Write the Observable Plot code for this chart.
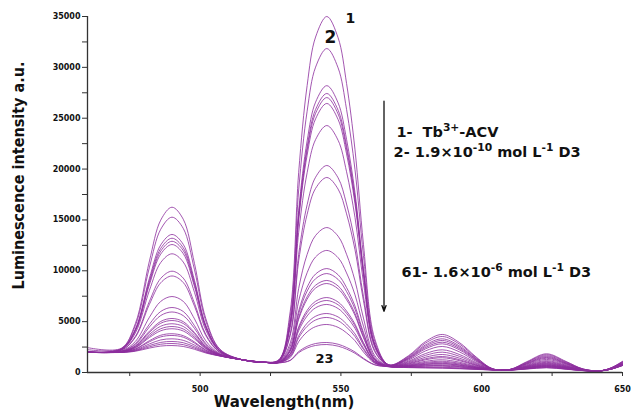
<!DOCTYPE html>
<html>
<head>
<meta charset="utf-8">
<script src="https://cdn.jsdelivr.net/npm/d3@7"></script>
<script src="https://cdn.jsdelivr.net/npm/@observablehq/plot@0.6"></script>
<style>
  html, body { margin: 0; padding: 0; background: #fff; }
  svg text { white-space: pre; }
</style>
</head>
<body>
<div id="chart"></div>
<script>
// ---------- data ----------
const wavelengths = [460, 472, 477, 482, 486, 490, 494, 498, 502, 507, 515, 523,
  528, 532, 535, 538, 541, 545, 549, 552, 555, 558, 562,
  567, 574, 580, 586, 592, 598, 604,
  610, 616, 623, 630, 636, 642, 646, 650];

const curve1 = [2450, 2380, 4810, 10970, 14980, 16250, 15070, 10710, 5320, 2300, 1250, 1000, 1270, 6020, 19680, 28210, 32980, 35000, 32910, 28420, 21890, 12610, 3330, 760, 1650, 3040, 3740, 2960, 1530, 350, 300, 1060, 1840, 1080, 350, 170, 470, 1100];
const curve2 = [2250, 2350, 4610, 10350, 14080, 15270, 14170, 10100, 5070, 2250, 1250, 1000, 1240, 5540, 17950, 25690, 30020, 31850, 29950, 25870, 19940, 11510, 3080, 750, 1580, 2890, 3540, 2810, 1460, 350, 300, 1010, 1750, 1030, 340, 170, 460, 1070];
const curve3 = [2000, 2300, 4270, 9280, 12540, 13570, 12600, 9050, 4650, 2170, 1250, 1000, 1200, 5000, 15940, 22770, 26580, 28200, 26510, 22920, 17670, 10230, 2790, 730, 1500, 2710, 3310, 2630, 1370, 340, 290, 960, 1650, 970, 330, 160, 450, 1040];
const curve4 = [2000, 2290, 4200, 9040, 12200, 13200, 12260, 8820, 4560, 2150, 1250, 1000, 1200, 4880, 15520, 22160, 25860, 27430, 25790, 22290, 17200, 9970, 2720, 720, 1440, 2580, 3150, 2500, 1320, 330, 290, 910, 1560, 920, 310, 160, 440, 1010];
const curve5 = [2000, 2280, 4140, 8860, 11930, 12900, 11990, 8640, 4480, 2130, 1250, 1000, 1190, 4820, 15300, 21840, 25480, 27030, 25410, 21970, 16950, 9820, 2690, 720, 1380, 2450, 2980, 2370, 1250, 330, 280, 870, 1480, 880, 300, 160, 430, 990];
const curve6 = [2000, 2270, 4070, 8650, 11640, 12580, 11690, 8440, 4400, 2120, 1250, 1000, 1190, 4730, 14980, 21370, 24940, 26450, 24870, 21500, 16590, 9620, 2650, 710, 1320, 2320, 2820, 2240, 1190, 320, 280, 830, 1400, 840, 300, 160, 420, 960];
const curve7 = [2000, 2240, 3890, 8080, 10810, 11670, 10860, 7870, 4170, 2070, 1250, 1000, 1170, 4410, 13790, 19640, 22900, 24280, 22830, 19740, 15240, 8860, 2470, 700, 1230, 2120, 2560, 2040, 1100, 320, 280, 770, 1290, 780, 280, 160, 410, 930];
const curve8 = [2000, 2190, 3550, 7000, 9250, 9960, 9280, 6810, 3750, 1990, 1250, 1000, 1130, 3820, 11620, 16490, 19200, 20350, 19140, 16560, 12810, 7490, 2160, 680, 1120, 1860, 2230, 1780, 980, 310, 270, 710, 1170, 710, 270, 160, 400, 890];
const curve9 = [2000, 2180, 3460, 6710, 8820, 9490, 8850, 6520, 3630, 1960, 1250, 1000, 1110, 3640, 10980, 15550, 18100, 19170, 18030, 15600, 12070, 7070, 2060, 670, 1040, 1680, 2000, 1600, 890, 300, 260, 660, 1080, 660, 260, 160, 390, 870];
const curve10 = [2000, 2120, 3050, 5430, 6990, 7470, 6990, 5270, 3120, 1860, 1250, 1000, 1070, 2900, 8270, 11610, 13470, 14250, 13400, 11620, 9020, 5350, 1670, 640, 960, 1500, 1770, 1420, 800, 290, 260, 620, 1000, 620, 250, 160, 380, 840];
const curve11 = [2000, 2090, 2840, 4750, 6000, 6390, 6000, 4600, 2850, 1810, 1250, 1000, 1040, 2570, 7030, 9810, 11360, 12000, 11290, 9790, 7630, 4560, 1490, 630, 890, 1350, 1570, 1270, 730, 290, 260, 590, 930, 580, 240, 160, 370, 820];
const curve12 = [2000, 2070, 2750, 4480, 5600, 5950, 5590, 4330, 2740, 1790, 1250, 1000, 1020, 2300, 6050, 8390, 9680, 10220, 9610, 8350, 6530, 3940, 1350, 620, 840, 1250, 1450, 1170, 690, 280, 250, 560, 880, 550, 230, 160, 370, 810];
const curve13 = [2000, 2050, 2620, 4070, 5020, 5310, 5000, 3930, 2580, 1750, 1250, 1000, 1020, 2230, 5780, 8000, 9220, 9730, 9150, 7960, 6220, 3770, 1310, 610, 780, 1100, 1250, 1020, 610, 280, 250, 530, 820, 520, 230, 160, 360, 790];
const curve14 = [2000, 2050, 2580, 3950, 4840, 5110, 4820, 3810, 2530, 1740, 1250, 1000, 1010, 2120, 5410, 7450, 8580, 9050, 8510, 7400, 5800, 3530, 1250, 610, 730, 990, 1110, 910, 560, 270, 250, 500, 770, 490, 220, 160, 360, 770];
const curve15 = [2000, 2040, 2520, 3750, 4550, 4790, 4530, 3610, 2450, 1730, 1250, 1000, 1010, 2080, 5240, 7210, 8300, 8750, 8230, 7160, 5610, 3430, 1230, 600, 690, 910, 1010, 830, 520, 270, 250, 480, 730, 470, 210, 160, 350, 760];
const curve16 = [2000, 2030, 2460, 3580, 4300, 4520, 4280, 3440, 2390, 1710, 1250, 1000, 1000, 1870, 4490, 6110, 7000, 7370, 6930, 6040, 4760, 2940, 1120, 600, 660, 830, 910, 750, 490, 270, 240, 460, 690, 440, 210, 160, 350, 750];
const curve17 = [2000, 2020, 2420, 3440, 4100, 4300, 4080, 3300, 2330, 1700, 1250, 1000, 990, 1830, 4330, 5880, 6730, 7080, 6660, 5810, 4580, 2840, 1100, 600, 640, 790, 860, 710, 470, 260, 240, 440, 660, 430, 210, 150, 350, 740];
const curve18 = [2000, 2010, 2320, 3130, 3660, 3810, 3620, 3000, 2210, 1680, 1250, 1000, 990, 1770, 4110, 5560, 6360, 6690, 6290, 5490, 4340, 2710, 1060, 590, 600, 720, 760, 640, 430, 260, 240, 420, 620, 410, 200, 150, 340, 730];
const curve19 = [2000, 2000, 2290, 3020, 3500, 3640, 3470, 2890, 2170, 1670, 1250, 1000, 980, 1640, 3620, 4850, 5530, 5800, 5460, 4770, 3790, 2390, 990, 590, 580, 660, 690, 580, 410, 260, 240, 410, 590, 390, 200, 150, 340, 720];
const curve20 = [2000, 1990, 2220, 2810, 3200, 3310, 3160, 2690, 2080, 1650, 1250, 1000, 980, 1580, 3410, 4540, 5160, 5410, 5090, 4460, 3540, 2260, 960, 580, 550, 610, 620, 530, 380, 260, 240, 390, 560, 370, 190, 150, 340, 710];
const curve21 = [2000, 1990, 2170, 2650, 2960, 3050, 2930, 2530, 2020, 1640, 1250, 1000, 970, 1470, 3030, 3990, 4510, 4720, 4440, 3900, 3120, 2020, 910, 580, 520, 530, 520, 450, 340, 250, 240, 370, 520, 350, 190, 150, 330, 700];
const curve22 = [2000, 1980, 2130, 2520, 2780, 2850, 2740, 2400, 1970, 1630, 1250, 1000, 950, 1210, 2060, 2570, 2850, 2950, 2780, 2460, 2020, 1400, 770, 570, 500, 480, 460, 400, 320, 250, 240, 360, 490, 340, 190, 150, 330, 690];
const curve23 = [2000, 1970, 2090, 2400, 2600, 2650, 2560, 2280, 1920, 1620, 1250, 1000, 950, 1180, 1950, 2410, 2660, 2750, 2590, 2300, 1890, 1330, 750, 570, 480, 450, 420, 370, 300, 250, 230, 340, 460, 320, 180, 150, 330, 680];

const curves = [curve1, curve2, curve3, curve4, curve5, curve6, curve7, curve8, curve9, curve10,
  curve11, curve12, curve13, curve14, curve15, curve16, curve17, curve18, curve19, curve20,
  curve21, curve22, curve23];

const yMajorTicks = [0, 5000, 10000, 15000, 20000, 25000, 30000, 35000];
const yMinorTicks = [2500, 7500, 12500, 17500, 22500, 27500, 32500];
const xMajorTicks = [500, 550, 600, 650];
const xMinorTicks = [475, 525, 575, 625];

const xTitle = "Wavelength(nm)";
const yTitle = "Luminescence intensity a.u.";

const curveLabels = [
  {label: "1", wavelength: 553.4, intensity: 34800, size: 14},
  {label: "2", wavelength: 546.3, intensity: 32900, size: 17},
  {label: "23", wavelength: 544.2, intensity: 1330, size: 13}
];
const legendLines = [
  {text: "1-  Tb^{3+}-ACV", wavelength: 569.7, intensity: 23650},
  {text: "2- 1.9×10^{-10} mol L^{-1} D3", wavelength: 568.7, intensity: 21690},
  {text: "61- 1.6×10^{-6} mol L^{-1} D3", wavelength: 571.5, intensity: 9830}
];
const arrowSpec = [{wavelength: 565.3, from: 26670, to: 6020}];

// ---------- tidy rows built from the arrays ----------
const rows = curves.flatMap((vals, i) =>
  vals.map((v, j) => ({curve: i + 1, wavelength: wavelengths[j], intensity: v})));

const FONT = "DejaVu Sans";
const annoSize = 14.5;

const chart = Plot.plot({
  width: 631,
  height: 410,
  marginLeft: 87,
  marginRight: 9,
  marginTop: 16,
  marginBottom: 38,
  x: {domain: [460, 650], label: null},
  y: {domain: [0, 35000], label: null},
  style: {fontFamily: FONT, fontWeight: "bold", fontSize: "8px", color: "#111", background: "#fff", overflow: "visible"},
  marks: [
    Plot.axisY({ticks: yMajorTicks, tickSize: 5, tickPadding: 2, tickFormat: d => String(d), label: null, fontSize: 8, fontWeight: "bold", stroke: "#333"}),
    Plot.axisY({ticks: yMinorTicks, tickSize: 5, tickFormat: () => "", label: null, stroke: "#333"}),
    Plot.axisX({ticks: xMajorTicks, tickSize: 4, tickPadding: 10, tickFormat: d => String(d), label: null, fontSize: 8, fontWeight: "bold", stroke: "#333"}),
    Plot.axisX({ticks: xMinorTicks, tickSize: 4, tickFormat: () => "", label: null, stroke: "#333"}),
    Plot.line(rows, {
      x: "wavelength", y: "intensity", z: "curve",
      curve: "catmull-rom",
      stroke: "#8c2d9e", strokeWidth: 1, strokeOpacity: 0.8
    }),
    Plot.ruleX([460], {stroke: "#333", strokeWidth: 1.3}),
    Plot.ruleY([0], {stroke: "#333", strokeWidth: 1.3}),
    Plot.arrow(arrowSpec, {
      x1: "wavelength", y1: "from", x2: "wavelength", y2: "to",
      stroke: "#111", strokeWidth: 1.3, headLength: 7, headAngle: 40
    }),
    Plot.text(curveLabels, {
      x: "wavelength", y: "intensity", text: "label",
      fontSize: d => d.size, fontWeight: "bold", fill: "#111",
      textAnchor: "middle", lineAnchor: "middle"
    }),
    Plot.text(legendLines, {
      x: "wavelength", y: "intensity", text: "text",
      fontSize: annoSize, fontWeight: "bold", fill: "#111",
      textAnchor: "start", lineAnchor: "middle"
    }),
    Plot.text([xTitle], {
      text: d => d, frameAnchor: "bottom", dx: -71, dy: 30,
      fontSize: 15, fontWeight: "bold", fill: "#111",
      textAnchor: "middle", lineAnchor: "middle"
    }),
    Plot.text([yTitle], {
      text: d => d, frameAnchor: "left", dx: -68, dy: -19, rotate: -90,
      fontSize: 15, fontWeight: "bold", fill: "#111",
      textAnchor: "middle", lineAnchor: "middle"
    })
  ]
});

// superscripts in the annotation block
const NS = "http://www.w3.org/2000/svg";
d3.select(chart).selectAll("text").each(function () {
  const raw = this.textContent;
  if (raw.indexOf("^{") < 0) return;
  const parts = raw.split(/\^\{([^}]*)\}/);
  const raise = 6;
  while (this.firstChild) this.removeChild(this.firstChild);
  let raised = false;
  parts.forEach((p, i) => {
    if (p === "") return;
    const ts = document.createElementNS(NS, "tspan");
    ts.textContent = p;
    if (i % 2 === 1) {
      ts.setAttribute("font-size", (annoSize * 0.74).toFixed(2));
      if (!raised) ts.setAttribute("dy", -raise);
      raised = true;
    } else if (raised) {
      ts.setAttribute("dy", raise);
      raised = false;
    }
    this.appendChild(ts);
  });
});
// fit the y title to the length it has in the original
d3.select(chart).selectAll("text")
  .filter(function () { return this.textContent === yTitle; })
  .attr("textLength", 228).attr("lengthAdjust", "spacingAndGlyphs");

document.getElementById("chart").appendChild(chart);
</script>
</body>
</html>
